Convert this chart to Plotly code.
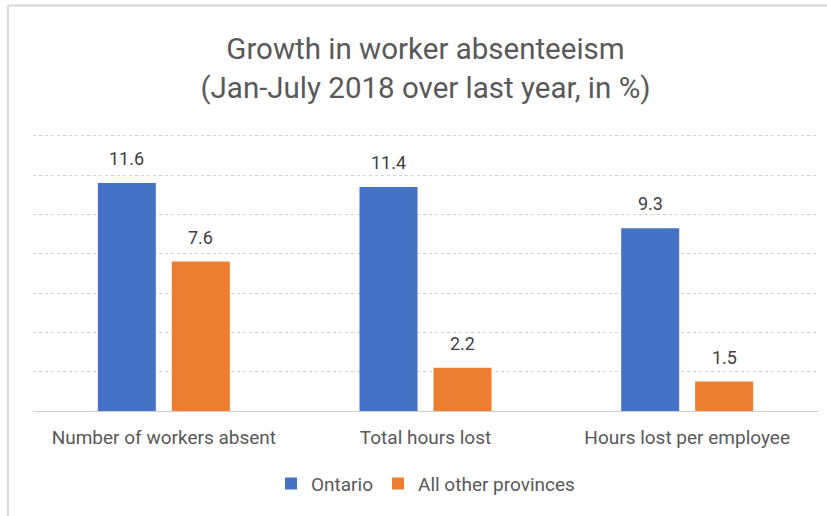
import plotly.graph_objects as go

categories = ["Number of workers absent", "Total hours lost", "Hours lost per employee"]
ontario = [11.6, 11.4, 9.3]
others = [7.6, 2.2, 1.5]
series_names = ["Ontario", "All other provinces"]
colors = ["#4472C4", "#ED7D31"]
title_lines = ["Growth in worker absenteeism", "(Jan-July 2018 over last year, in %)"]

FONT = "Roboto, sans-serif"
TXT = "#595959"

fig = go.Figure()
for name, vals, col in zip(series_names, [ontario, others], colors):
    fig.add_trace(go.Bar(x=categories, y=vals, name=name, marker_color=col,
                         marker_line_width=0))

annotations = []
for vals, shift in zip([ontario, others], [-37, 37]):
    for c, v in zip(categories, vals):
        annotations.append(dict(x=c, y=v, text=f"{v:.1f}", showarrow=False,
                                xshift=shift, yshift=12, yanchor="bottom",
                                font=dict(family=FONT, size=18, color="#404040")))

fig.update_layout(
    width=827, height=516,
    margin=dict(l=33, r=9, t=126, b=105),
    paper_bgcolor="white", plot_bgcolor="white",
    barmode="group", bargap=0.4345, bargroupgap=0.216,
    title=dict(text="<br>".join(title_lines), x=0.5, xref="paper",
               y=0.885, yref="container", yanchor="middle",
               font=dict(family=FONT, size=29.5, color=TXT)),
    font=dict(family=FONT, color=TXT),
    xaxis=dict(showgrid=False, showline=False, ticks="", ticklabelstandoff=13,
               tickfont=dict(family=FONT, size=19, color=TXT)),
    yaxis=dict(range=[0, 14.5], tickvals=[2, 4, 6, 8, 10, 12, 14], showticklabels=False,
               showline=False, gridcolor="#d0d0d0", griddash="dot", gridwidth=1,
               zeroline=True, zerolinecolor="#d0d0d0", zerolinewidth=1),
    legend=dict(orientation="h", x=0.5, xanchor="center", y=-0.255, yanchor="middle",
                font=dict(family=FONT, size=19, color=TXT), itemwidth=30,
                traceorder="normal"),
    annotations=annotations,
    showlegend=True,
    shapes=[
        dict(type="line", xref="paper", yref="paper", x0=-0.032, x1=1.02, y0=1.4225, y1=1.4225,
             line=dict(color="#d9d9d9", width=2)),
        dict(type="line", xref="paper", yref="paper", x0=-0.032, x1=-0.032, y0=1.4225, y1=-0.4,
             line=dict(color="#d9d9d9", width=2)),
    ],
)

fig.write_html("out.html")
